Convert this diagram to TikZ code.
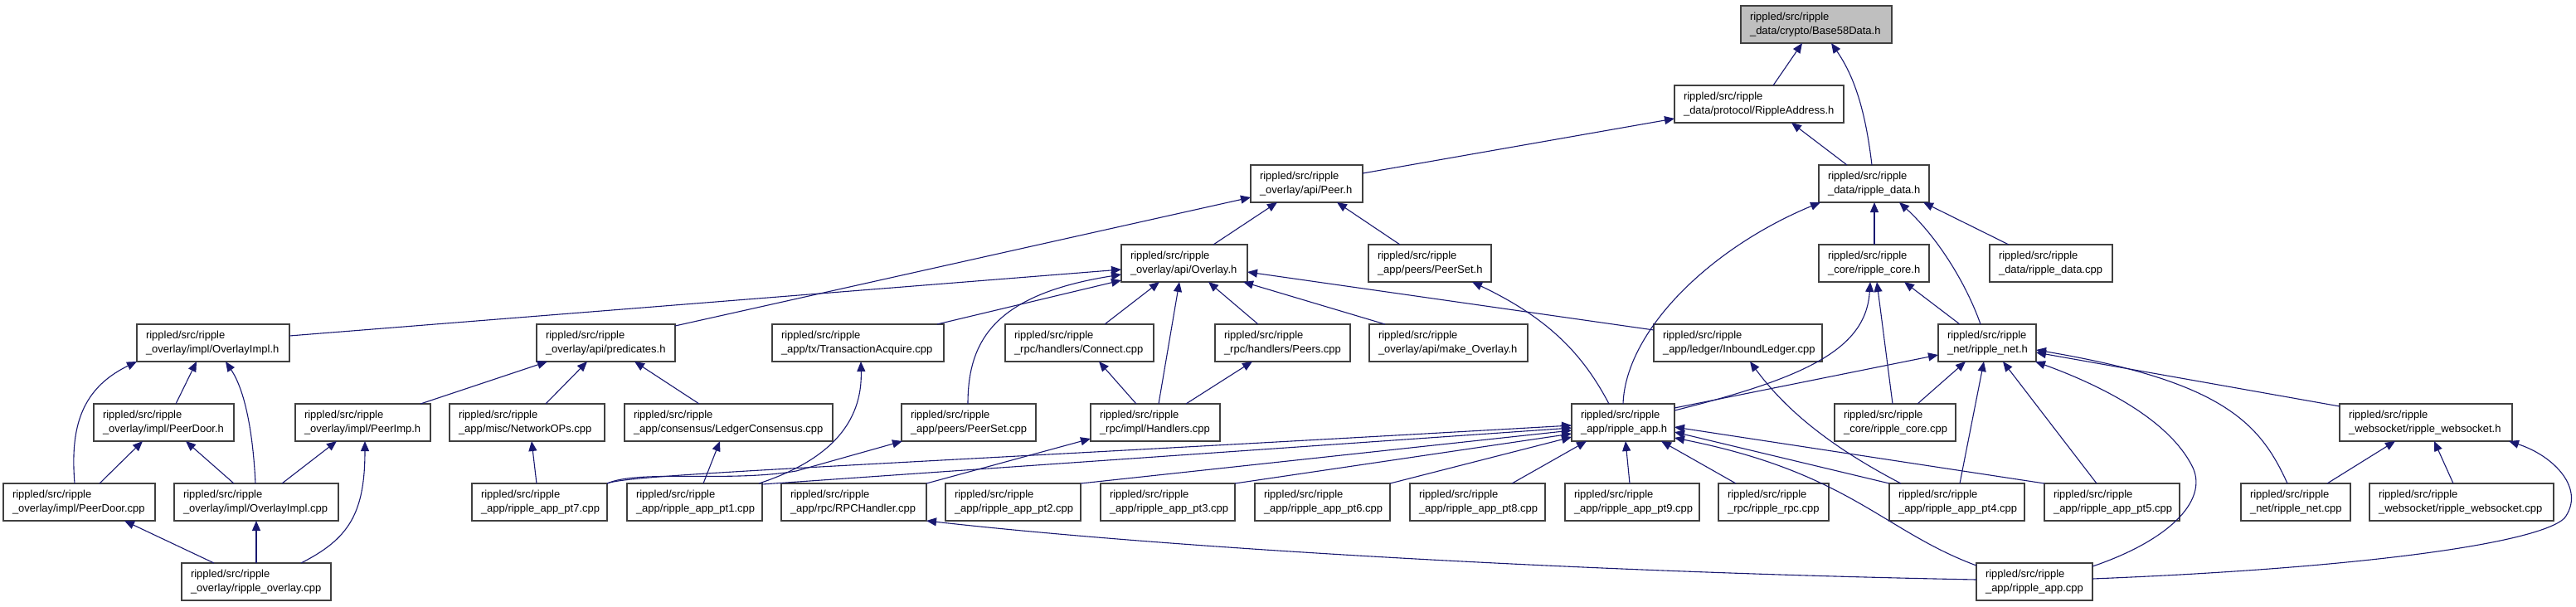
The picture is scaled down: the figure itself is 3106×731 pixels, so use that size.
\documentclass[tikz,border=0pt]{standalone}
\usepackage{fontspec}
\setmainfont{Liberation Sans}
\usetikzlibrary{arrows.meta}
\definecolor{edgecol}{RGB}{25,25,112}
\definecolor{boxcol}{RGB}{64,64,64}
\definecolor{graybox}{RGB}{191,191,191}
\tikzset{
  gbox/.style={draw=boxcol, line width=1.2pt, fill=white, anchor=north west, minimum height=45pt,
    inner xsep=11pt, inner ysep=0pt, outer sep=0pt, align=left,
    font=\fontsize{13}{16.7}\selectfont},
  edge/.style={draw=edgecol, line width=1.1pt, -{Triangle[length=12pt,width=10pt]}, color=edgecol}
}
\newcommand\gnode[5]{\node[gbox, text width=#4pt] (#1) at (#2,#3) {#5};}
\begin{document}
\begin{tikzpicture}[x=1pt,y=-1pt]
\useasboundingbox (0,0) rectangle (3106,731);
% nodes
\node[gbox, fill=graybox, text width=160pt] (b58) at (2099,7) {rippled/src/ripple\\\_data/crypto/Base58Data.h};
\gnode{raddr}{2019}{103}{182}{rippled/src/ripple\\\_data/protocol/RippleAddress.h}
\gnode{peerh}{1508}{199}{113}{rippled/src/ripple\\\_overlay/api/Peer.h}
\gnode{rdatah}{2193}{199}{111}{rippled/src/ripple\\\_data/ripple\_data.h}
\gnode{overlayh}{1352}{295}{130}{rippled/src/ripple\\\_overlay/api/Overlay.h}
\gnode{peerseth}{1650}{295}{126}{rippled/src/ripple\\\_app/peers/PeerSet.h}
\gnode{rcoreh}{2193}{295}{111}{rippled/src/ripple\\\_core/ripple\_core.h}
\gnode{rdatacpp}{2399}{295}{126}{rippled/src/ripple\\\_data/ripple\_data.cpp}
\gnode{ovimplh}{165}{391}{162}{rippled/src/ripple\\\_overlay/impl/OverlayImpl.h}
\gnode{predh}{647}{391}{145}{rippled/src/ripple\\\_overlay/api/predicates.h}
\gnode{txacq}{931}{391}{185}{rippled/src/ripple\\\_app/tx/TransactionAcquire.cpp}
\gnode{connect}{1212}{391}{157}{rippled/src/ripple\\\_rpc/handlers/Connect.cpp}
\gnode{peers}{1465}{391}{141}{rippled/src/ripple\\\_rpc/handlers/Peers.cpp}
\gnode{mkov}{1651}{391}{169}{rippled/src/ripple\\\_overlay/api/make\_Overlay.h}
\gnode{inbound}{1994}{391}{181}{rippled/src/ripple\\\_app/ledger/InboundLedger.cpp}
\gnode{rneth}{2337}{391}{96}{rippled/src/ripple\\\_net/ripple\_net.h}
\gnode{pdoorh}{113}{487}{147}{rippled/src/ripple\\\_overlay/impl/PeerDoor.h}
\gnode{peerimph}{356}{487}{141}{rippled/src/ripple\\\_overlay/impl/PeerImp.h}
\gnode{netops}{542}{487}{165}{rippled/src/ripple\\\_app/misc/NetworkOPs.cpp}
\gnode{lcons}{753}{487}{229}{rippled/src/ripple\\\_app/consensus/LedgerConsensus.cpp}
\gnode{peersetcpp}{1087}{487}{140}{rippled/src/ripple\\\_app/peers/PeerSet.cpp}
\gnode{handlers}{1315}{487}{134}{rippled/src/ripple\\\_rpc/impl/Handlers.cpp}
\gnode{rapph}{1895}{487}{102}{rippled/src/ripple\\\_app/ripple\_app.h}
\gnode{rcorecpp}{2212}{487}{124}{rippled/src/ripple\\\_core/ripple\_core.cpp}
\gnode{wsh}{2821}{487}{186}{rippled/src/ripple\\\_websocket/ripple\_websocket.h}
\gnode{pdoorcpp}{4}{583}{161}{rippled/src/ripple\\\_overlay/impl/PeerDoor.cpp}
\gnode{ovimplcpp}{210}{583}{176}{rippled/src/ripple\\\_overlay/impl/OverlayImpl.cpp}
\gnode{pt7}{569}{583}{141}{rippled/src/ripple\\\_app/ripple\_app\_pt7.cpp}
\gnode{pt1}{756}{583}{141}{rippled/src/ripple\\\_app/ripple\_app\_pt1.cpp}
\gnode{rpch}{942}{583}{153}{rippled/src/ripple\\\_app/rpc/RPCHandler.cpp}
\gnode{pt2}{1140}{583}{141}{rippled/src/ripple\\\_app/ripple\_app\_pt2.cpp}
\gnode{pt3}{1327}{583}{140}{rippled/src/ripple\\\_app/ripple\_app\_pt3.cpp}
\gnode{pt6}{1513}{583}{141}{rippled/src/ripple\\\_app/ripple\_app\_pt6.cpp}
\gnode{pt8}{1700}{583}{141}{rippled/src/ripple\\\_app/ripple\_app\_pt8.cpp}
\gnode{pt9}{1887}{583}{140}{rippled/src/ripple\\\_app/ripple\_app\_pt9.cpp}
\gnode{rrpc}{2072}{583}{111}{rippled/src/ripple\\\_rpc/ripple\_rpc.cpp}
\gnode{pt4}{2278}{583}{141}{rippled/src/ripple\\\_app/ripple\_app\_pt4.cpp}
\gnode{pt5}{2465}{583}{141}{rippled/src/ripple\\\_app/ripple\_app\_pt5.cpp}
\gnode{rnetcpp}{2702}{583}{110}{rippled/src/ripple\\\_net/ripple\_net.cpp}
\gnode{wscpp}{2857}{583}{200}{rippled/src/ripple\\\_websocket/ripple\_websocket.cpp}
\gnode{rovcpp}{219}{679}{158}{rippled/src/ripple\\\_overlay/ripple\_overlay.cpp}
\gnode{rappcpp}{2383}{679}{118}{rippled/src/ripple\\\_app/ripple\_app.cpp}
% edges
\draw[edge] ([xshift=119pt]raddr.north west) -- ([xshift=74pt]b58.south west);
\draw[edge] ([xshift=64pt]rdatah.north west) .. controls (2250,140) and (2238,95) .. ([xshift=109pt]b58.south west);
\draw[edge] ([yshift=-10pt]peerh.north east) -- ([yshift=5pt]raddr.south west);
\draw[edge] ([xshift=34pt]rdatah.north west) -- ([xshift=141pt]raddr.south west);
\draw[edge] ([xshift=111pt]overlayh.north west) -- ([xshift=32pt]peerh.south west);
\draw[edge] ([xshift=38pt]peerseth.north west) -- ([xshift=104pt]peerh.south west);
\draw[edge] ([yshift=-2pt]predh.north east) -- ([yshift=6pt]peerh.south west);
\draw[edge] ([xshift=67pt]rcoreh.north west) -- ([xshift=67pt]rdatah.south west);
\draw[edge] ([xshift=23pt]rdatacpp.north west) -- ([xshift=126pt]rdatah.south west);
\draw[edge] ([xshift=62pt]rapph.north west) .. controls (1960,400) and (2060,300) .. ([xshift=2pt]rdatah.south west);
\draw[edge] ([xshift=51pt]rneth.north west) .. controls (2370,340) and (2335,285) .. ([xshift=97pt]rdatah.south west);
\draw[edge] ([yshift=-14pt]ovimplh.north east) -- ([yshift=-30pt]overlayh.north west);
\draw[edge] ([xshift=199pt]txacq.north west) -- ([yshift=2pt]overlayh.south west);
\draw[edge] ([xshift=80pt]peersetcpp.north west) .. controls (1167,410) and (1200,355) .. ([yshift=9pt]overlayh.south west);
\draw[edge] ([xshift=120pt]connect.north west) -- ([xshift=46pt]overlayh.south west);
\draw[edge] ([xshift=82pt]handlers.north west) -- ([xshift=70pt]overlayh.south west);
\draw[edge] ([xshift=52pt]peers.north west) -- ([xshift=105pt]overlayh.south west);
\draw[edge] ([xshift=19pt]mkov.north west) -- ([xshift=147pt]overlayh.south west);
\draw[edge] ([yshift=-7pt]inbound.north west) -- ([yshift=-33pt]overlayh.north east);
\draw[edge] ([xshift=45pt]rapph.north west) .. controls (1910,430) and (1870,385) .. ([xshift=125pt]peerseth.south west);
\draw[edge] ([yshift=-8pt]rapph.north east) .. controls (2180,455) and (2250,420) .. ([xshift=62pt]rcoreh.south west);
\draw[edge] ([xshift=70pt]rcorecpp.north west) -- ([xshift=70pt]rcoreh.south west);
\draw[edge] ([xshift=26pt]rneth.north west) -- ([xshift=103pt]rcoreh.south west);
\draw[edge] ([yshift=-5pt]rapph.north east) -- ([yshift=-37pt]rneth.north west);
\draw[edge] ([xshift=100pt]rcorecpp.north west) -- ([xshift=33pt]rneth.south west);
\draw[edge] ([xshift=85pt]pt4.north west) -- ([xshift=55pt]rneth.south west);
\draw[edge] ([xshift=63pt]pt5.north west) -- ([xshift=78pt]rneth.south west);
\draw[edge] ([yshift=-4pt]rappcpp.north east) .. controls (2620,650) and (2665,600) .. (2642,560) .. controls (2610,500) and (2520,460) .. ([xshift=-1pt]rneth.south east);
\draw[edge] ([yshift=-3pt]wsh.north west) -- ([yshift=-34pt]rneth.north east);
\draw[edge] ([xshift=56pt]rnetcpp.north west) .. controls (2725,510) and (2680,460) .. ([yshift=-31pt]rneth.north east);
\draw[edge] ([xshift=104pt]rnetcpp.north west) -- ([xshift=67pt]wsh.south west);
\draw[edge] ([xshift=101pt]wscpp.north west) -- ([xshift=114pt]wsh.south west);
\draw[edge] ([yshift=-19pt]rappcpp.north east) .. controls (2850,685) and (3060,655) .. (3092,625) .. controls (3118,590) and (3080,550) .. ([xshift=-4pt]wsh.south east);
\draw[edge] (pt7.north east) .. controls (760,572) and (1000,564) .. ([yshift=19pt]rapph.south west);
\draw[edge] ([yshift=-1pt]pt1.north east) -- ([yshift=16pt]rapph.south west);
\draw[edge] (pt2.north east) -- ([yshift=13pt]rapph.south west);
\draw[edge] (pt3.north east) -- ([yshift=9pt]rapph.south west);
\draw[edge] (pt6.north east) -- ([yshift=5pt]rapph.south west);
\draw[edge] ([xshift=123pt]pt8.north west) -- ([xshift=18pt]rapph.south west);
\draw[edge] ([xshift=78pt]pt9.north west) -- ([xshift=65pt]rapph.south west);
\draw[edge] ([xshift=21pt]rrpc.north west) -- ([xshift=108pt]rapph.south west);
\draw[edge] (pt5.north west) -- ([yshift=17pt]rapph.south east);
\draw[edge] (pt4.north west) -- ([yshift=11pt]rapph.south east);
\draw[edge] ([yshift=-3pt]rappcpp.north west) .. controls (2270,640) and (2230,570) .. ([yshift=4pt]rapph.south east);
\draw[edge] ([xshift=14pt]pt4.north west) .. controls (2200,535) and (2150,490) .. ([xshift=116pt]inbound.south west);
\draw[edge] ([yshift=-20pt]rappcpp.north west) .. controls (1900,690) and (1400,660) .. (rpch.south east);
\draw[edge] (rpch.north east) -- ([yshift=3pt]handlers.south west);
\draw[edge] ([xshift=55pt]handlers.north west) -- ([xshift=113pt]connect.south west);
\draw[edge] ([xshift=115pt]handlers.north west) -- ([xshift=45pt]peers.south west);
\draw[edge] (pt7.north east) .. controls (770,566) and (880,582) .. (960,568) -- ([xshift=1pt]peersetcpp.south west);
\draw[edge] ([xshift=-4pt]pt1.north east) .. controls (1000,555) and (1040,510) .. ([xshift=107pt]txacq.south west);
\draw[edge] ([xshift=92pt]pt1.north west) -- ([xshift=115pt]lcons.south west);
\draw[edge] ([xshift=78pt]pt7.north west) -- ([xshift=99pt]netops.south west);
\draw[edge] ([xshift=151pt]peerimph.north west) -- ([xshift=13pt]predh.south west);
\draw[edge] ([xshift=116pt]netops.north west) -- ([xshift=61pt]predh.south west);
\draw[edge] ([xshift=90pt]lcons.north west) -- ([xshift=118pt]predh.south west);
\draw[edge] ([xshift=99pt]pdoorh.north west) -- ([xshift=72pt]ovimplh.south west);
\draw[edge] ([xshift=86pt]pdoorcpp.north west) .. controls (85,520) and (95,470) .. (ovimplh.south west);
\draw[edge] ([xshift=98pt]ovimplcpp.north west) .. controls (305,520) and (295,470) .. ([xshift=107pt]ovimplh.south west);
\draw[edge] ([xshift=116pt]pdoorcpp.north west) -- ([xshift=59pt]pdoorh.south west);
\draw[edge] ([xshift=72pt]ovimplcpp.north west) -- ([xshift=111pt]pdoorh.south west);
\draw[edge] ([xshift=130pt]ovimplcpp.north west) -- ([xshift=50pt]peerimph.south west);
\draw[edge] ([xshift=144pt]rovcpp.north west) .. controls (420,650) and (440,620) .. ([xshift=84pt]peerimph.south west);
\draw[edge] ([xshift=39pt]rovcpp.north west) -- ([xshift=146pt]pdoorcpp.south west);
\draw[edge] ([xshift=90pt]rovcpp.north west) -- ([xshift=99pt]ovimplcpp.south west);
\end{tikzpicture}
\end{document}
